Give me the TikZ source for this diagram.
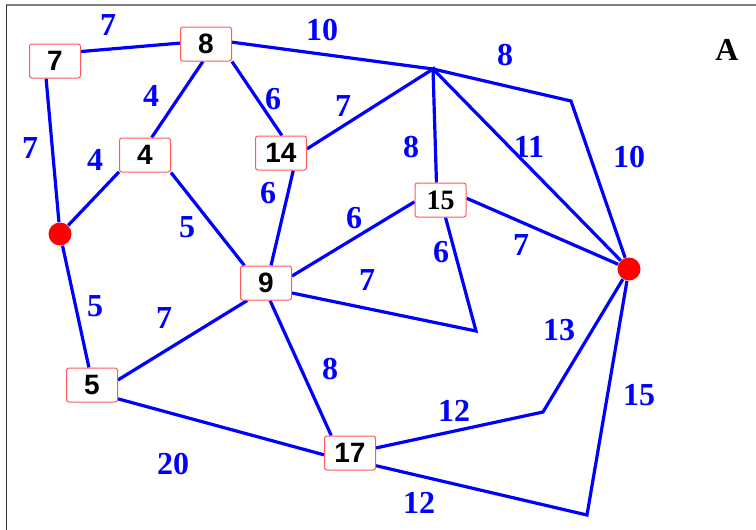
\documentclass[tikz,border=0pt]{standalone}
\usepackage{fontspec}
\setmainfont{Liberation Serif}
\setsansfont{Liberation Sans}
\usetikzlibrary{backgrounds}
\begin{document}
\begin{tikzpicture}[x=0.5pt,y=-0.5pt,
 box/.style={draw=red!65,line width=0.5pt,rounded corners=1.2pt,fill=white,minimum width=25.5pt,minimum height=17pt,inner sep=0pt,font=\fontsize{14}{14}\selectfont\sffamily\bfseries},
 sbox/.style={box,font=\fontsize{14}{14}\selectfont\rmfamily\bfseries},
 dot/.style={circle,fill=red,minimum size=11.5pt,inner sep=0pt},
 edge/.style={draw=blue,line width=1.6pt,line join=miter},
 wt/.style={text=blue,inner sep=0pt,font=\fontsize{16}{16}\selectfont\rmfamily\bfseries}]
\useasboundingbox (0,0) rectangle (756,530);
\draw[gray,line width=0.8pt] (6,5) -- (756,5);
\draw[black!80,line width=0.8pt] (6.5,5) -- (6.5,530);

% vertices
\node[box] (n7) at (55,61) {7};
\node[box] (n8) at (206,44) {8};
\node[box] (n4) at (145,155) {4};
\node[box] (n14) at (281,153) {14};
\node[sbox] (n15) at (440.5,200) {15};
\node[box] (n9) at (266,283) {9};
\node[box] (n5) at (92,385) {5};
\node[box] (n17) at (350,453) {17};
\node[dot] (ld) at (60,234) {};
\node[dot] (rd) at (629,269) {};
\coordinate (P) at (433,69);
\coordinate (Q) at (571,101);
\coordinate (R) at (476,331);
\coordinate (S) at (543,412);
\coordinate (T) at (587,515);

\begin{scope}[on background layer]
\draw[edge] (n7.20) -- (n8.178);
\draw[edge] (n8.4) -- (P) -- (Q) -- (rd);
\draw[edge] (n7.243) -- (ld);
\draw[edge] (n8.260) -- (n4.69);
\draw[edge] (n8.326) -- (n14.87);
\draw[edge] (n14.9) -- (P) -- (n15.103);
\draw[edge] (P) -- (rd);
\draw[edge] (ld) -- (n4.213);
\draw[edge] (n4.326) -- (n9.141);
\draw[edge] (n14.305) -- (n9.74);
\draw[edge] (n15.4) -- (rd);
\draw[edge] (n9.15) -- (n15.184);
\draw[edge] (n15.286) -- (R) -- (n9.339);
\draw[edge] (ld) -- (n5.100);
\draw[edge] (n5.11) -- (n9.223);
\draw[edge] (n9.283) -- (n17.137);
\draw[edge] (n5.332) -- (n17.184);
\draw[edge] (n17.11) -- (S) -- (rd);
\draw[edge] (n17.334) -- (T) -- (rd);
\end{scope}

% weights
\node[wt] (w1) at (108,25) {7};
\node[wt] (w2) at (322,30) {10};
\node[wt] (w3) at (151,96) {4};
\node[wt] (w4) at (273,99) {6};
\node[wt] (w5) at (343,106) {7};
\node[wt] (w6) at (30,148) {7};
\node[wt] (w7) at (95,160) {4};
\node[wt] (w8) at (268,193) {6};
\node[wt] (w9) at (187,227) {5};
\node[wt] (w10) at (354,218) {6};
\node[wt] (w11) at (505,55) {8};
\node[wt] (w12) at (411,147) {8};
\node[wt] (w13) at (529,147) {11};
\node[wt] (w14) at (629,157) {10};
\node[wt] (w15) at (521,245) {7};
\node[wt] (w16) at (441,252) {6};
\node[wt] (w17) at (367,280) {7};
\node[wt] (w18) at (95,306) {5};
\node[wt] (w19) at (164,318) {7};
\node[wt] (w20) at (330,369) {8};
\node[wt] (w21) at (173,464) {20};
\node[wt] (w22) at (559,330) {13};
\node[wt] (w23) at (454,411) {12};
\node[wt] (w24) at (639,395) {15};
\node[wt] (w25) at (419,503) {12};
\node[inner sep=0pt,font=\fontsize{16}{16}\selectfont\rmfamily\bfseries] (lA) at (727,50) {A};
\end{tikzpicture}
\end{document}
